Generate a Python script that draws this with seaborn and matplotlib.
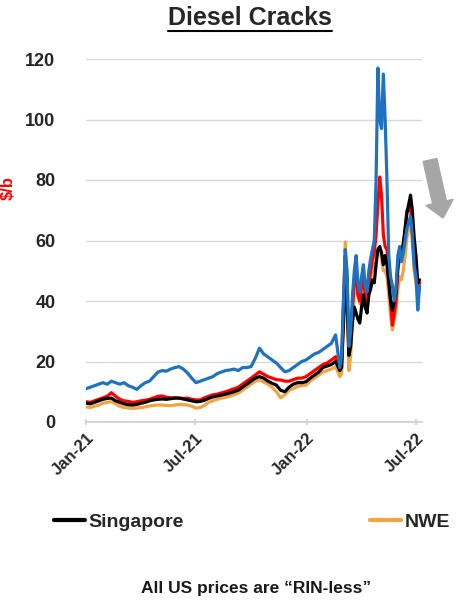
import pandas as pd
import matplotlib.pyplot as plt
import matplotlib.dates as mdates
from matplotlib.lines import Line2D
from matplotlib.patches import FancyArrow
import seaborn as sns

# weekly points Jan-21 .. Feb-22, then every 3 days Mar-22 .. Jul-22
dates_weekly = pd.date_range('2021-01-01', '2022-02-25', freq='W-FRI')
dates_spring = pd.date_range('2022-02-28', '2022-07-07', freq='3D')

ny_harbor = [11, 11.5, 12, 12.5, 13,
             12.5, 13.5, 13, 12.5,
             13, 12, 11.5, 10.8,
             12, 13, 13.5, 15, 16.5,
             17, 16.8, 17.5, 18,
             18.3, 17.5, 16.2, 14.5,
             13, 13.5, 14, 14.5, 15,
             16, 16.5, 17, 17.2,
             17.5, 17, 18, 18,
             18.3, 21, 24.4, 22.5, 21.5,
             20.5, 19.5, 18, 16.6,
             17, 18, 19, 20, 20.5,
             21.5, 22.5, 23, 24,
             25, 26, 28.8, 18,
             22, 40, 57, 50, 25, 30, 42, 50, 55, 46, 43,
             48, 52, 45, 43, 50, 54, 57, 60, 80, 117,
             100, 97, 115, 100, 80, 55, 48, 45, 40, 44,
             55, 58, 53, 56, 60, 64, 66, 68, 62, 52,
             48, 37, 45]

gulf_coast = [6.7, 6.5, 7, 7.5, 8,
              8.5, 9.7, 8.5, 7.5,
              7, 6.8, 6.5, 6.7,
              7, 7.2, 7.5, 8, 8.5,
              8.6, 8.2, 8, 8,
              7.9, 7.8, 7.9, 7.5,
              7.3, 7.3, 8, 8.5, 9,
              9.2, 9.6, 10, 10.5,
              11, 11.5, 12.5, 13.5,
              14.5, 15.5, 16.6, 15.8, 15,
              14.5, 14, 13.9, 13.5,
              13.5, 14, 14.5, 14.5, 15,
              16, 17, 18, 19,
              19.5, 20.5, 21.6, 17,
              20, 38, 55, 47, 24, 28, 38, 46, 50, 42, 40,
              45, 48, 42, 40, 46, 50, 54, 56, 62, 72,
              81, 75, 62, 58, 57, 50, 40, 32, 36, 40,
              50, 55, 54, 58, 63, 70, 70, 71, 63, 54,
              50, 44, 46]

singapore = [6.3, 6, 6.5, 7, 7.5,
             7.8, 7.9, 7, 6.5,
             6, 5.7, 5.6, 5.8,
             6.2, 6.5, 7, 7.3, 7.5,
             7.6, 7.5, 7.7, 7.9,
             7.9, 7.6, 7.3, 7,
             6.7, 6.8, 7.2, 7.8, 8.3,
             8.6, 8.9, 9.2, 9.6,
             10, 10.5, 11.5, 12.5,
             13.5, 14.5, 15, 14.5, 13.5,
             12.8, 12.2, 10.5, 10,
             11.5, 12.5, 13, 13, 13.3,
             14.5, 15.5, 16.5, 18,
             18.5, 19, 20, 17,
             18, 32, 45, 40, 22, 25, 33, 38, 36, 34, 32.7,
             38, 42, 38, 36, 42, 44, 47, 46, 52, 57,
             58, 56, 52, 55, 52, 46, 40, 37, 40, 43,
             52, 57, 56, 59, 64, 69, 72, 75, 70, 61,
             55, 46, 47]

nwe = [5, 4.8, 5.2, 5.6, 6.2,
       6.5, 6.7, 6, 5.2,
       4.8, 4.6, 4.5, 4.6,
       4.8, 5, 5.3, 5.5, 5.6,
       5.6, 5.5, 5.4, 5.6,
       5.8, 5.7, 5.6, 5.2,
       4.6, 4.8, 5.5, 6.5, 7,
       7.5, 7.9, 8.2, 8.5,
       9, 9.5, 10.5, 11.5,
       12.5, 13.5, 13.9, 13.2, 12.5,
       11.5, 10, 8, 9,
       10.5, 11, 11.8, 12, 12.2,
       13.5, 14.5, 15.5, 16.5,
       17, 17.5, 18.3, 15,
       16, 38, 59.5, 42, 17, 22, 35, 47, 50, 42, 39,
       44, 46, 38, 37, 44, 48, 50, 52, 55, 56,
       57, 54, 50, 50, 48, 42, 35, 30.4, 34, 37,
       44, 48, 47, 50, 55, 61, 64, 66, 60, 50,
       46, 42.6, 44]

dates = dates_weekly.append(dates_spring)
series = {'NWE': nwe, 'US Gulf Coast': gulf_coast,
          'Singapore': singapore, 'NY Harbor': ny_harbor}
colors = {'NWE': '#f0a445', 'US Gulf Coast': '#ff0000',
          'Singapore': '#000000', 'NY Harbor': '#1f72c0'}

df = pd.concat([pd.DataFrame({'date': dates, 'value': v, 'market': k})
                for k, v in series.items()], ignore_index=True)

sns.set_theme(style='white')
plt.rcParams['font.family'] = ['Liberation Sans', 'DejaVu Sans']
plt.rcParams['font.weight'] = 'bold'

fig = plt.figure(figsize=(4.72, 6.13), dpi=100)
ax = fig.add_axes([86 / 472, 1 - 422 / 613, 336 / 472, 363 / 613])

sns.lineplot(data=df, x='date', y='value', hue='market',
             hue_order=list(series.keys()), palette=colors,
             linewidth=2.3, legend=False, ax=ax)

ax.set_xlim(pd.Timestamp('2021-01-01'), pd.Timestamp('2022-07-11'))
ax.set_ylim(0, 120)
ax.set_yticks(range(0, 121, 20))
ax.yaxis.grid(True, color='#d9d9d9', linewidth=1)
ax.set_axisbelow(True)
for s in ['left', 'right', 'top']:
    ax.spines[s].set_visible(False)
ax.spines['bottom'].set_color('#d0d0d0')
ax.xaxis.set_major_locator(mdates.MonthLocator(bymonth=[1, 7]))
ax.xaxis.set_major_formatter(mdates.DateFormatter('%b-%y'))
ax.tick_params(axis='x', bottom=True, length=4, color='#d0d0d0', direction='inout',
               labelsize=12, pad=4)
ax.tick_params(axis='y', left=False, labelsize=13, pad=16)
for lab in ax.get_xticklabels():
    lab.set_rotation(45)
    lab.set_ha('right')
    lab.set_rotation_mode('anchor')
    lab.set_fontweight('bold')
for lab in ax.get_yticklabels():
    lab.set_fontweight('bold')
ax.set_xlabel('')
ax.set_ylabel('')

fig.text(8 / 472, 1 - 188 / 613, r'\$/b', rotation=90, ha='center', va='center',
         color='#ff0000', fontsize=12, fontweight='bold')

title = fig.text(250 / 472, 1 - 18 / 613, 'Diesel Cracks', ha='center', va='center',
                 fontsize=18, fontweight='bold')

handles = [Line2D([], [], color=colors['Singapore'], linewidth=3),
           Line2D([], [], color=colors['NWE'], linewidth=3)]
fig.legend(handles, ['Singapore', 'NWE'], ncol=2, loc='center',
           bbox_to_anchor=(252 / 472, 1 - 522 / 613), frameon=False,
           prop={'size': 14, 'weight': 'bold'}, handlelength=1.6,
           handletextpad=0.15, columnspacing=9.6)

fig.text(256 / 472, 1 - 588 / 613, 'All US prices are \u201cRIN-less\u201d',
         ha='center', va='center', fontsize=12.5, fontweight='bold', color='#1a1a1a')

arrow = FancyArrow(4.30, 4.53, 0.13, -0.58, width=0.14, head_width=0.28,
                   head_length=0.16, length_includes_head=True,
                   color='#a6a6a6', transform=fig.dpi_scale_trans)
fig.add_artist(arrow)

# underline the title
fig.canvas.draw()
bb = title.get_window_extent(fig.canvas.get_renderer()).transformed(fig.transFigure.inverted())
fig.add_artist(Line2D([bb.x0, bb.x1], [bb.y0 - 0.002, bb.y0 - 0.002],
                      color='black', linewidth=1.5, transform=fig.transFigure))

fig.savefig('out.png', dpi=100)
